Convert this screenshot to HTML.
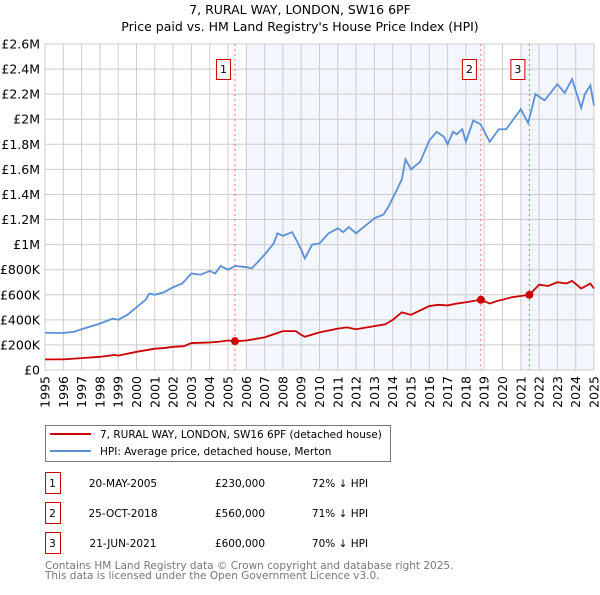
<!DOCTYPE html>
<html><head><meta charset="utf-8"><style>
body{margin:0;background:#fff;font-family:"Liberation Sans","DejaVu Sans",sans-serif}
svg text{font-family:"DejaVu Sans","Liberation Sans",sans-serif}
</style></head><body>
<svg width="600" height="590" xmlns="http://www.w3.org/2000/svg">
<text x="300" y="14" text-anchor="middle" font-size="12.5">7, RURAL WAY, LONDON, SW16 6PF</text>
<text x="300" y="31" text-anchor="middle" font-size="12.5">Price paid vs. HM Land Registry's House Price Index (HPI)</text>
<g id="plot"></g>
<g>
<rect x="45.5" y="425.5" width="345" height="36" fill="#fff" stroke="#777"/>
<line x1="50" y1="434" x2="91" y2="434" stroke="#cc0000" stroke-width="2"/>
<text x="100" y="437.8" font-size="10.5">7, RURAL WAY, LONDON, SW16 6PF (detached house)</text>
<line x1="50" y1="451" x2="91" y2="451" stroke="#5b8fd6" stroke-width="2"/>
<text x="100" y="454.8" font-size="10.5">HPI: Average price, detached house, Merton</text>
</g>
<g id="table" font-size="10.5"></g>
<text x="45" y="569" font-size="10.5" fill="#777">Contains HM Land Registry data © Crown copyright and database right 2025.</text>
<text x="45" y="579" font-size="10.5" fill="#777">This data is licensed under the Open Government Licence v3.0.</text>
</svg>
<script>
const yTicks=[0,200000,400000,600000,800000,1000000,1200000,1400000,1600000,1800000,2000000,2200000,2400000,2600000];
const yTickLabels=["£0","£200K","£400K","£600K","£800K","£1M","£1.2M","£1.4M","£1.6M","£1.8M","£2M","£2.2M","£2.4M","£2.6M"];
const years=[1995,1996,1997,1998,1999,2000,2001,2002,2003,2004,2005,2006,2007,2008,2009,2010,2011,2012,2013,2014,2015,2016,2017,2018,2019,2020,2021,2022,2023,2024,2025];
const hpiT=[1995,1996,1996.6,1997,1998,1998.7,1999,1999.5,2000,2000.5,2000.7,2001,2001.5,2002,2002.5,2003,2003.5,2004,2004.3,2004.6,2005,2005.4,2006,2006.3,2007,2007.5,2007.7,2008,2008.5,2008.8,2009,2009.2,2009.6,2010,2010.5,2011,2011.3,2011.6,2012,2012.5,2013,2013.5,2013.8,2014,2014.5,2014.7,2015,2015.5,2016,2016.4,2016.8,2017,2017.3,2017.5,2017.8,2018,2018.4,2018.8,2019.3,2019.8,2020.2,2020.5,2021,2021.4,2021.8,2022.3,2023,2023.4,2023.8,2024.3,2024.5,2024.8,2025];
const hpiV=[297000,295000,305000,325000,370000,410000,400000,440000,500000,560000,610000,600000,620000,660000,690000,770000,760000,790000,770000,830000,800000,830000,820000,810000,920000,1010000,1090000,1070000,1100000,1020000,960000,890000,1000000,1010000,1090000,1130000,1100000,1140000,1090000,1150000,1210000,1240000,1310000,1370000,1520000,1680000,1600000,1660000,1830000,1900000,1860000,1800000,1900000,1880000,1920000,1820000,1990000,1960000,1820000,1920000,1920000,1980000,2080000,1970000,2200000,2150000,2280000,2210000,2320000,2090000,2200000,2270000,2110000];
const ppT=[1995,1996,1997,1998,1998.8,1999,2000,2001,2001.5,2002,2002.6,2003,2004,2004.5,2005,2005.38,2006,2007,2007.5,2008,2008.7,2009,2009.2,2010,2011,2011.5,2012,2013,2013.6,2014,2014.5,2015,2016,2016.5,2017,2017.5,2018,2018.82,2019.3,2019.7,2020,2020.5,2021,2021.47,2022,2022.5,2023,2023.5,2023.8,2024.3,2024.8,2025];
const ppV=[85000,85000,95000,105000,120000,115000,145000,170000,175000,185000,190000,215000,220000,225000,235000,230000,235000,260000,285000,310000,310000,280000,265000,300000,330000,340000,325000,350000,365000,400000,460000,440000,510000,520000,515000,530000,540000,560000,530000,550000,560000,580000,590000,600000,680000,670000,700000,690000,710000,650000,690000,650000];
const saleT=[2005.38,2018.82,2021.47];
const saleV=[230000,560000,600000];
const saleLabels=["1","2","3"];
const saleDates=["20-MAY-2005","25-OCT-2018","21-JUN-2021"];
const salePrices=["£230,000","£560,000","£600,000"];
const saleDiffs=["72% ↓ HPI","71% ↓ HPI","70% ↓ HPI"];
const X0=45,X1=594,Y0=370,Y1=44;
const xs=t=>X0+(t-1995)/30*(X1-X0);
const ys=v=>Y0-v/2600000*(Y0-Y1);
const NS="http://www.w3.org/2000/svg";
function mk(tag,attrs,parent,txt){const e=document.createElementNS(NS,tag);for(const k in attrs)e.setAttribute(k,attrs[k]);if(txt!==undefined)e.textContent=txt;parent.appendChild(e);return e;}
const g=document.getElementById('plot');
const sh1=mk('rect',{x:xs(2006),y:Y1,width:xs(saleT[1])-xs(2006),height:Y0-Y1,fill:'#f3f6fd'},g);


const sh2=mk('rect',{x:xs(2021),y:Y1,width:X1-xs(2021),height:Y0-Y1,fill:'#f3f6fd'},g);


yTicks.forEach((v,i)=>{
 const l=mk('line',{x1:X0,x2:X1,y1:ys(v),y2:ys(v),stroke:'#ccc'},g);
 
 
 const t=mk('text',{x:40,y:ys(v)+4.5,'text-anchor':'end','font-size':12.5},g,yTickLabels[i]);
 
 
});
years.forEach(yr=>{
 const l=mk('line',{x1:xs(yr),x2:xs(yr),y1:Y1,y2:Y0,stroke:'#ccc'},g);
 
 
 const t=mk('text',{transform:`translate(${xs(yr)+4.5},${Y0+6}) rotate(-90)`,'text-anchor':'end','font-size':12.5},g,String(yr));
 
 
});
const bd=mk('rect',{x:X0,y:Y1,width:X1-X0,height:Y0-Y1,fill:'none',stroke:'#ccc'},g);


saleT.forEach((t,i)=>{
 const l=mk('line',{x1:xs(t),x2:xs(t),y1:Y1,y2:Y0,stroke:'#f07070','stroke-dasharray':'2,3'},g);
 
 
 const r=mk('rect',{x:xs(t)-18.5,y:59.5,width:14,height:20,fill:'#fff',stroke:'#cc0000'},g);
 
 
 const tx=mk('text',{x:xs(t)-11.5,y:73,'text-anchor':'middle','font-size':11},g,saleLabels[i]);
 
 
});
const hp=mk('polyline',{points:hpiT.map((t,i)=>xs(t)+','+ys(hpiV[i])).join(' '),fill:'none',stroke:'#5b8fd6','stroke-width':1.8},g);


const pp=mk('polyline',{points:ppT.map((t,i)=>xs(t)+','+ys(ppV[i])).join(' '),fill:'none',stroke:'#cc0000','stroke-width':1.8},g);


saleT.forEach((t,i)=>{
 const c=mk('circle',{cx:xs(t),cy:ys(saleV[i]),r:4,fill:'#cc0000'},g);
 
 
});
const tb=document.getElementById('table');
saleT.forEach((t,i)=>{
 const y=483+i*30;
 const r=mk('rect',{x:45.5,y:y-7.5,width:15,height:21,fill:'#fff',stroke:'#cc0000'},tb);
 
 
 r.setAttribute('y',y-10.5);
 const a=mk('text',{x:52.5,y:y+3.8,'text-anchor':'middle'},tb,saleLabels[i]);
 
 
 const b=mk('text',{x:123,y:y+3.8,'text-anchor':'middle'},tb,saleDates[i]);
 
 
 const c=mk('text',{x:240,y:y+3.8,'text-anchor':'middle'},tb,salePrices[i]);
 
 
 const d=mk('text',{x:340,y:y+3.8,'text-anchor':'middle'},tb,saleDiffs[i]);
 
 
});
</script>
</body></html>
